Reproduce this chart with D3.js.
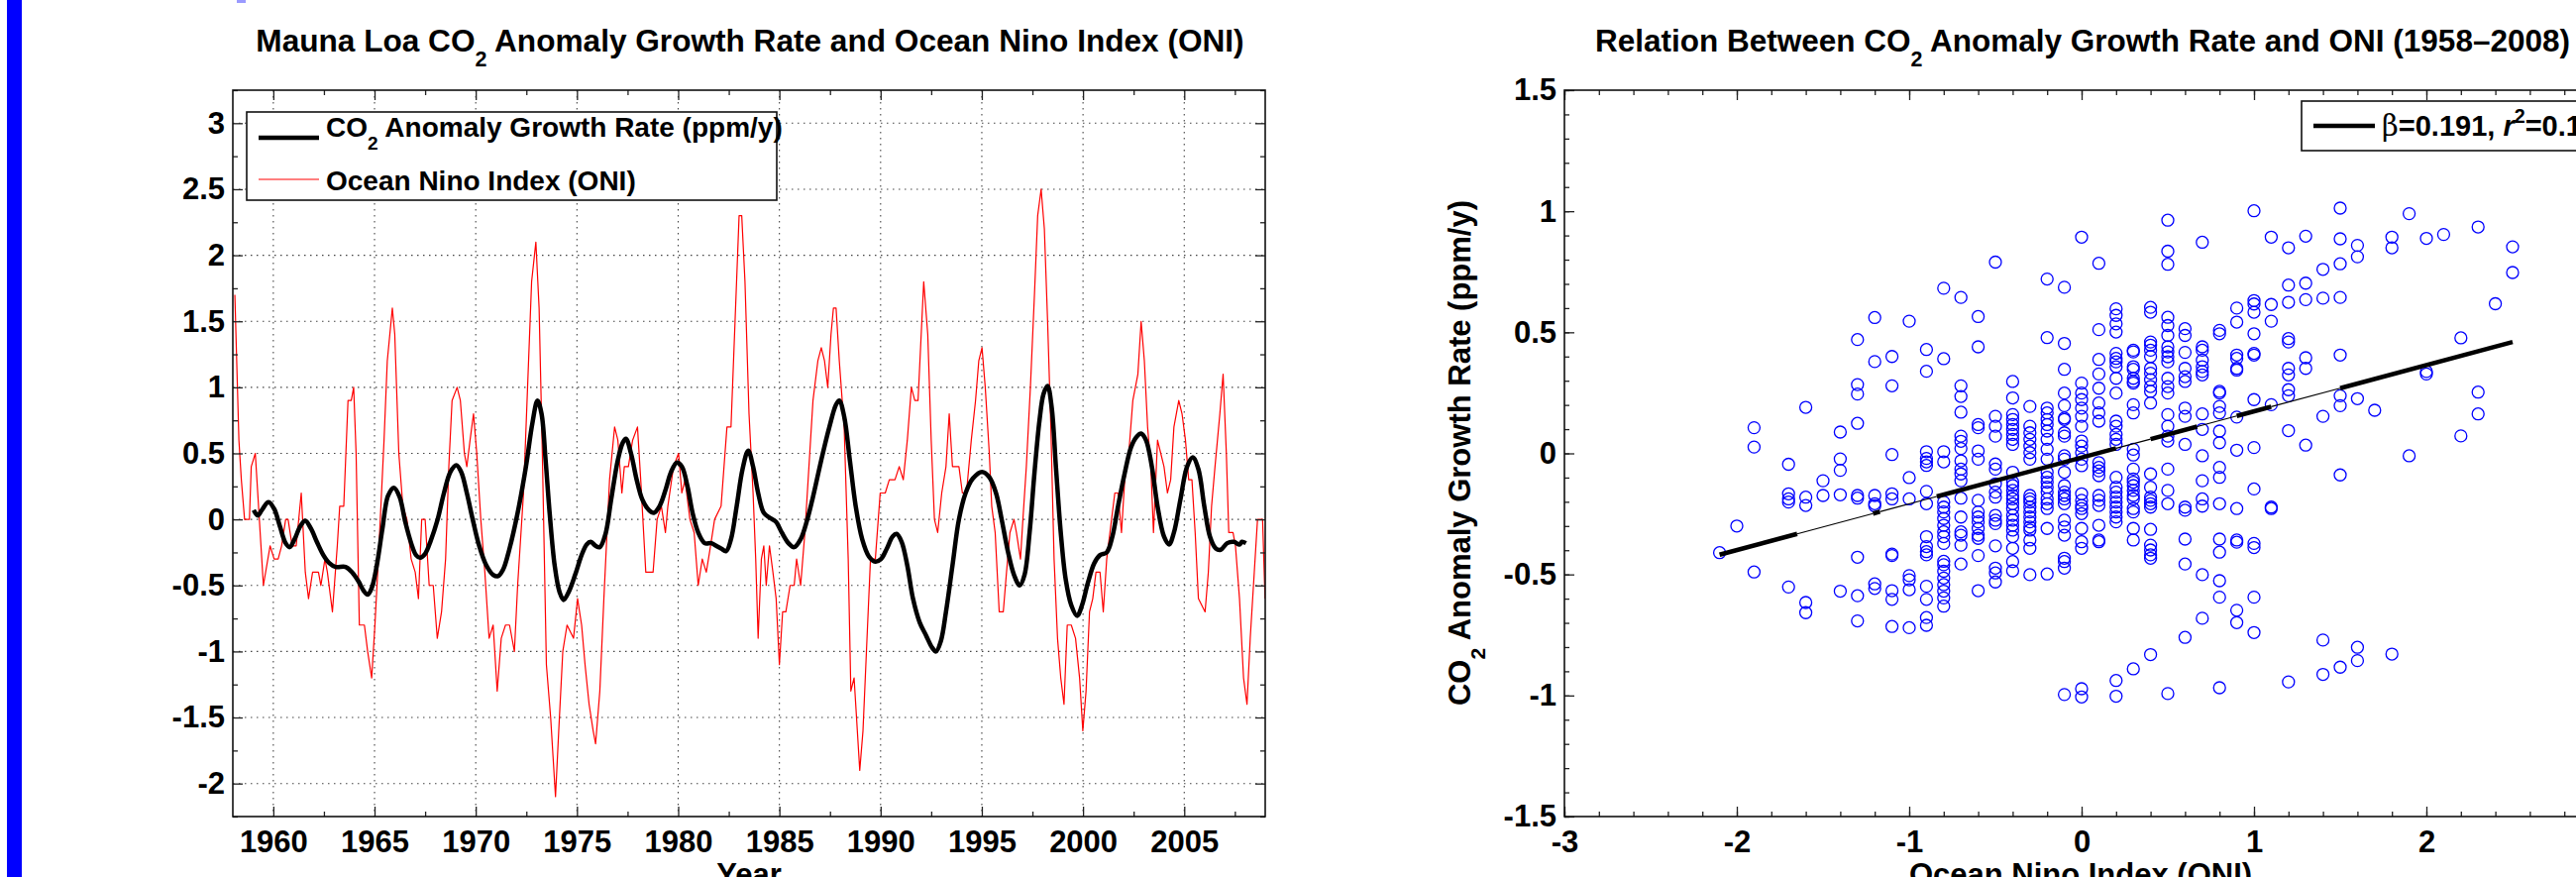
<!DOCTYPE html>
<html>
<head>
<meta charset="utf-8">
<script src="https://cdn.jsdelivr.net/npm/d3@7"></script>
<style>
  body { margin: 0; background: #fff; }
  svg text { font-family: "Liberation Sans", Arial, Helvetica, sans-serif; font-weight: bold; fill: #000; }
</style>
</head>
<body>
<div id="chart"></div>
<script>
// ---- data ----
// Ocean Nino Index, [year, value]
const oniSeries = [
  [1958.10,1.7],[1958.30,0.6],[1958.42,0.3],[1958.58,0.0],[1958.82,0.0],[1958.91,0.4],[1959.11,0.5],[1959.31,0.0],
  [1959.51,-0.5],[1959.84,-0.2],[1960.04,-0.3],[1960.24,-0.3],[1960.41,-0.2],[1960.61,0.0],[1960.73,0.0],[1960.93,-0.2],
  [1961.13,-0.2],[1961.38,0.2],[1961.58,-0.4],[1961.74,-0.6],[1961.94,-0.4],[1962.23,-0.4],[1962.35,-0.5],[1962.55,-0.3],
  [1962.67,-0.4],[1962.92,-0.7],[1963.16,-0.2],[1963.28,0.1],[1963.48,0.1],[1963.69,0.9],[1963.85,0.9],[1963.97,1.0],
  [1964.09,0.5],[1964.25,-0.8],[1964.50,-0.8],[1964.66,-1.0],[1964.86,-1.2],[1965.02,-0.8],[1965.19,-0.3],[1965.47,0.6],
  [1965.63,1.2],[1965.88,1.6],[1966.00,1.4],[1966.20,0.5],[1966.40,0.1],[1966.60,0.0],[1966.81,-0.3],[1967.01,-0.4],
  [1967.17,-0.6],[1967.33,0.0],[1967.50,0.0],[1967.70,-0.5],[1967.90,-0.5],[1968.10,-0.9],[1968.31,-0.7],[1968.51,-0.3],
  [1968.67,0.4],[1968.83,0.9],[1969.08,1.0],[1969.24,0.9],[1969.44,0.5],[1969.56,0.4],[1969.72,0.6],[1969.89,0.8],
  [1970.05,0.5],[1970.25,0.0],[1970.45,-0.4],[1970.66,-0.9],[1970.86,-0.8],[1971.06,-1.3],[1971.26,-0.9],[1971.47,-0.8],
  [1971.67,-0.8],[1971.91,-1.0],[1972.07,-0.5],[1972.36,0.2],[1972.56,1.0],[1972.76,1.8],[1972.97,2.1],[1973.13,1.6],
  [1973.29,0.5],[1973.49,-1.1],[1973.70,-1.5],[1973.94,-2.1],[1974.10,-1.6],[1974.30,-1.0],[1974.51,-0.8],[1974.83,-0.9],
  [1975.03,-0.6],[1975.23,-0.8],[1975.40,-1.1],[1975.60,-1.4],[1975.80,-1.6],[1975.92,-1.7],[1976.13,-1.3],[1976.33,-0.6],
  [1976.61,0.3],[1976.86,0.7],[1977.02,0.6],[1977.22,0.2],[1977.34,0.4],[1977.54,0.4],[1977.75,0.6],[1977.99,0.7],
  [1978.15,0.3],[1978.40,-0.4],[1978.76,-0.4],[1978.96,0.0],[1979.17,0.1],[1979.37,-0.1],[1979.49,0.1],[1979.77,0.4],
  [1980.02,0.5],[1980.18,0.2],[1980.34,0.3],[1980.58,0.0],[1980.79,-0.1],[1980.99,-0.5],[1981.19,-0.3],[1981.39,-0.4],
  [1981.60,-0.2],[1981.80,0.0],[1982.12,0.1],[1982.41,0.7],[1982.61,0.7],[1982.81,1.5],[1983.01,2.3],[1983.14,2.3],
  [1983.30,1.8],[1983.50,0.8],[1983.70,0.2],[1983.83,-0.3],[1983.95,-0.9],[1984.11,-0.3],[1984.23,-0.2],[1984.35,-0.5],
  [1984.51,-0.2],[1984.68,-0.4],[1984.84,-0.6],[1985.00,-1.1],[1985.16,-0.7],[1985.32,-0.7],[1985.53,-0.5],[1985.73,-0.5],
  [1985.85,-0.3],[1986.05,-0.5],[1986.26,-0.1],[1986.50,0.5],[1986.66,0.9],[1986.90,1.2],[1987.07,1.3],[1987.23,1.2],
  [1987.39,1.0],[1987.55,1.4],[1987.67,1.6],[1987.80,1.6],[1987.96,1.2],[1988.20,0.7],[1988.40,-0.3],[1988.53,-1.3],
  [1988.69,-1.2],[1988.81,-1.5],[1988.97,-1.9],[1989.13,-1.6],[1989.30,-1.0],[1989.50,-0.3],[1989.74,-0.3],[1989.98,0.2],
  [1990.23,0.2],[1990.43,0.3],[1990.71,0.3],[1990.92,0.4],[1991.12,0.3],[1991.32,0.6],[1991.52,1.0],[1991.69,0.9],
  [1991.85,0.9],[1992.13,1.8],[1992.33,1.4],[1992.50,0.6],[1992.66,0.0],[1992.82,-0.1],[1993.02,0.2],[1993.23,0.4],
  [1993.39,0.8],[1993.55,0.4],[1993.67,0.4],[1993.87,0.4],[1994.04,0.2],[1994.24,0.2],[1994.48,0.6],[1994.69,0.9],
  [1994.85,1.2],[1995.01,1.3],[1995.17,1.0],[1995.37,0.5],[1995.49,0.1],[1995.66,-0.1],[1995.86,-0.7],[1996.06,-0.7],
  [1996.22,-0.4],[1996.39,-0.1],[1996.59,0.0],[1996.71,-0.1],[1996.91,-0.3],[1997.03,0.0],[1997.20,0.4],[1997.40,1.0],
  [1997.60,1.7],[1997.76,2.3],[1997.93,2.5],[1998.09,2.2],[1998.25,1.5],[1998.41,0.7],[1998.57,-0.3],[1998.74,-0.9],
  [1998.90,-1.2],[1999.06,-1.4],[1999.22,-0.8],[1999.42,-0.8],[1999.63,-0.9],[1999.83,-1.2],[1999.99,-1.6],[2000.15,-1.3],
  [2000.32,-0.7],[2000.48,-0.6],[2000.64,-0.4],[2000.84,-0.4],[2001.00,-0.7],[2001.17,-0.3],[2001.41,0.0],[2001.57,0.2],
  [2001.73,0.2],[2001.90,-0.1],[2002.06,0.3],[2002.26,0.5],[2002.46,0.9],[2002.71,1.1],[2002.87,1.5],[2003.03,1.2],
  [2003.19,0.7],[2003.35,0.4],[2003.48,-0.1],[2003.68,0.6],[2003.84,0.5],[2004.00,0.4],[2004.17,0.2],[2004.33,0.3],
  [2004.49,0.7],[2004.73,0.9],[2004.89,0.8],[2005.06,0.6],[2005.22,0.3],[2005.38,0.3],[2005.54,-0.1],[2005.70,-0.6],
  [2006.03,-0.7],[2006.19,-0.4],[2006.35,0.1],[2006.52,0.4],[2006.76,0.8],[2006.92,1.1],[2007.08,0.5],[2007.20,-0.1],
  [2007.41,-0.1],[2007.53,-0.2],[2007.73,-0.6],[2007.93,-1.2],[2008.10,-1.4],[2008.26,-0.9],[2008.46,-0.4],[2008.62,0.0],
  [2008.87,0.0],[2008.99,-0.6]
];

// CO2 anomaly growth rate (ppm/y), [year, value]
const co2Series = [
  [1959.03,0.07],[1959.23,0.03],[1959.43,0.07],[1959.76,0.13],[1960.04,0.08],[1960.32,-0.05],[1960.61,-0.18],[1960.81,-0.21],
  [1961.05,-0.15],[1961.34,-0.05],[1961.58,-0.01],[1961.86,-0.07],[1962.15,-0.17],[1962.47,-0.27],[1962.76,-0.33],[1963.08,-0.36],
  [1963.57,-0.36],[1963.89,-0.40],[1964.21,-0.47],[1964.46,-0.54],[1964.66,-0.57],[1964.86,-0.52],[1965.11,-0.35],[1965.39,-0.07],
  [1965.67,0.18],[1965.96,0.24],[1966.24,0.17],[1966.52,-0.02],[1966.81,-0.18],[1967.05,-0.27],[1967.25,-0.29],[1967.50,-0.26],
  [1967.78,-0.16],[1968.10,-0.01],[1968.43,0.20],[1968.75,0.36],[1969.04,0.41],[1969.28,0.36],[1969.56,0.20],[1969.85,0.00],
  [1970.17,-0.20],[1970.53,-0.35],[1970.86,-0.42],[1971.10,-0.43],[1971.35,-0.38],[1971.67,-0.22],[1972.07,0.05],[1972.48,0.40],
  [1972.80,0.73],[1973.05,0.90],[1973.25,0.80],[1973.45,0.45],[1973.65,0.05],[1973.90,-0.35],[1974.14,-0.55],[1974.34,-0.61],
  [1974.59,-0.55],[1974.91,-0.42],[1975.23,-0.27],[1975.48,-0.19],[1975.68,-0.17],[1975.92,-0.20],[1976.13,-0.21],[1976.41,-0.11],
  [1976.69,0.15],[1977.02,0.45],[1977.26,0.58],[1977.42,0.61],[1977.67,0.50],[1977.95,0.30],[1978.23,0.15],[1978.56,0.07],
  [1978.80,0.05],[1979.08,0.10],[1979.37,0.22],[1979.65,0.36],[1979.94,0.43],[1980.18,0.40],[1980.46,0.25],[1980.71,0.05],
  [1980.99,-0.10],[1981.31,-0.18],[1981.64,-0.18],[1981.88,-0.20],[1982.12,-0.22],[1982.37,-0.24],[1982.61,-0.15],[1982.89,0.10],
  [1983.18,0.38],[1983.46,0.52],[1983.70,0.40],[1983.95,0.20],[1984.23,0.05],[1984.55,0.01],[1984.84,-0.02],[1985.12,-0.10],
  [1985.45,-0.18],[1985.73,-0.21],[1986.05,-0.15],[1986.38,0.00],[1986.66,0.17],[1987.07,0.45],[1987.47,0.70],[1987.80,0.87],
  [1987.96,0.90],[1988.20,0.78],[1988.48,0.45],[1988.77,0.10],[1989.09,-0.15],[1989.42,-0.28],[1989.74,-0.32],[1990.02,-0.30],
  [1990.31,-0.22],[1990.59,-0.13],[1990.79,-0.11],[1991.04,-0.17],[1991.32,-0.35],[1991.60,-0.60],[1991.93,-0.78],[1992.25,-0.88],
  [1992.54,-0.97],[1992.74,-1.00],[1992.98,-0.92],[1993.23,-0.70],[1993.55,-0.35],[1993.87,0.00],[1994.20,0.20],[1994.56,0.31],
  [1995.01,0.36],[1995.37,0.32],[1995.70,0.20],[1995.98,0.00],[1996.30,-0.25],[1996.59,-0.42],[1996.87,-0.50],[1997.11,-0.42],
  [1997.36,-0.10],[1997.60,0.35],[1997.85,0.75],[1998.05,0.95],[1998.25,1.01],[1998.45,0.85],[1998.66,0.40],[1998.90,-0.10],
  [1999.14,-0.45],[1999.42,-0.65],[1999.71,-0.73],[1999.95,-0.65],[2000.24,-0.48],[2000.56,-0.33],[2000.84,-0.27],[2001.17,-0.25],
  [2001.45,-0.13],[2001.73,0.10],[2002.06,0.35],[2002.38,0.55],[2002.67,0.63],[2002.87,0.65],[2003.11,0.60],[2003.40,0.40],
  [2003.68,0.10],[2004.00,-0.13],[2004.25,-0.19],[2004.49,-0.10],[2004.81,0.15],[2005.14,0.40],[2005.42,0.47],[2005.70,0.38],
  [2005.99,0.10],[2006.27,-0.13],[2006.56,-0.22],[2006.80,-0.23],[2007.12,-0.18],[2007.45,-0.17],[2007.73,-0.19],[2007.85,-0.17],
  [2008.05,-0.18]
];

// scatter: [ONI, list of CO2 growth-rate values seen in that column]
const scatterByONI = [
  [-2.1, [-0.41]],
  [-2.0, [-0.30]],
  [-1.9, [0.106, 0.026, -0.49]],
  [-1.7, [-0.045, -0.167, -0.188, -0.201, -0.552]],
  [-1.6, [0.19, -0.181, -0.215, -0.616, -0.658]],
  [-1.5, [-0.113, -0.174]],
  [-1.4, [0.088, -0.023, -0.07, -0.171, -0.569]],
  [-1.3, [0.47, 0.284, 0.245, 0.124, -0.174, -0.185, -0.429, -0.588, -0.692]],
  [-1.2, [0.561, 0.379, -0.174, -0.208, -0.217, -0.539, -0.558]],
  [-1.1, [0.40, 0.279, -0.005, -0.167, -0.188, -0.416, -0.422, -0.567, -0.603, -0.715]],
  [-1.0, [0.546, -0.10, -0.188, -0.505, -0.522, -0.563, -0.72]],
  [-0.9, [0.429, 0.339, 0.007, -0.021, -0.035, -0.05, -0.157, -0.208, -0.344, -0.385, -0.406, -0.419, -0.549, -0.603, -0.678, -0.71]],
  [-0.8, [0.682, 0.391, 0.007, -0.035, -0.201, -0.222, -0.242, -0.269, -0.297, -0.324, -0.344, -0.372, -0.446, -0.46, -0.487, -0.515, -0.542, -0.569, -0.597, -0.631]],
  [-0.7, [0.644, 0.279, 0.235, 0.17, 0.071, 0.05, 0.02, -0.031, -0.065, -0.085, -0.113, -0.185, -0.263, -0.324, -0.338, -0.379, -0.457]],
  [-0.6, [0.565, 0.44, 0.119, 0.106, 0.01, -0.024, -0.194, -0.242, -0.263, -0.283, -0.31, -0.338, -0.351, -0.422, -0.567]],
  [-0.5, [0.79, 0.153, 0.112, 0.071, -0.044, -0.065, -0.126, -0.16, -0.181, -0.256, -0.276, -0.29, -0.382, -0.474, -0.494, -0.531]],
  [-0.4, [0.297, 0.229, 0.16, 0.14, 0.119, 0.099, 0.078, 0.058, 0.037, -0.078, -0.119, -0.133, -0.153, -0.174, -0.188, -0.208, -0.228, -0.256, -0.276, -0.297, -0.317, -0.344, -0.392, -0.447, -0.485]],
  [-0.3, [0.194, 0.112, 0.085, 0.058, 0.03, 0.003, -0.024, -0.174, -0.188, -0.201, -0.222, -0.242, -0.263, -0.283, -0.304, -0.317, -0.358, -0.392, -0.501]],
  [-0.2, [0.72, 0.478, 0.187, 0.167, 0.14, 0.119, 0.092, 0.058, 0.017, -0.024, -0.078, -0.099, -0.119, -0.14, -0.16, -0.188, -0.208, -0.228, -0.31, -0.498]],
  [-0.1, [0.686, 0.454, 0.347, 0.249, 0.197, 0.146, 0.14, 0.085, 0.071, -0.01, -0.024, -0.078, -0.133, -0.16, -0.174, -0.188, -0.208, -0.276, -0.304, -0.338, -0.433, -0.447, -0.474, -0.996]],
  [0.0, [0.893, 0.29, 0.249, 0.222, 0.187, 0.153, 0.112, 0.051, 0.03, 0.003, -0.024, -0.051, -0.167, -0.194, -0.215, -0.228, -0.249, -0.31, -0.365, -0.392, -0.972, -1.006]],
  [0.1, [0.785, 0.511, 0.388, 0.328, 0.269, 0.208, 0.167, 0.133, -0.038, -0.058, -0.072, -0.092, -0.174, -0.194, -0.215, -0.297, -0.358, -0.365]],
  [0.2, [0.597, 0.57, 0.535, 0.501, 0.413, 0.392, 0.378, 0.358, 0.31, 0.249, 0.133, 0.112, 0.078, 0.058, 0.037, -0.099, -0.14, -0.16, -0.181, -0.201, -0.222, -0.242, -0.263, -0.283, -0.938, -1.003]],
  [0.3, [0.426, 0.419, 0.358, 0.347, 0.31, 0.297, 0.29, 0.201, 0.167, 0.017, -0.007, -0.065, -0.106, -0.119, -0.133, -0.153, -0.174, -0.188, -0.228, -0.242, -0.31, -0.358, -0.89]],
  [0.4, [0.603, 0.583, 0.46, 0.447, 0.426, 0.40, 0.351, 0.331, 0.304, 0.276, 0.256, 0.208, -0.085, -0.14, -0.181, -0.194, -0.208, -0.222, -0.314, -0.379, -0.399, -0.419, -0.433, -0.831]],
  [0.5, [0.963, 0.835, 0.781, 0.562, 0.528, 0.487, 0.44, 0.419, 0.399, 0.378, 0.31, 0.276, 0.249, 0.16, 0.112, 0.071, 0.051, -0.065, -0.153, -0.208, -0.992]],
  [0.6, [0.515, 0.487, 0.417, 0.351, 0.317, 0.297, 0.187, 0.153, 0.037, -0.222, -0.235, -0.354, -0.457, -0.76]],
  [0.7, [0.872, 0.44, 0.426, 0.385, 0.358, 0.338, 0.324, 0.163, 0.099, -0.01, -0.113, -0.188, -0.218, -0.501, -0.681]],
  [0.8, [0.508, 0.494, 0.256, 0.249, 0.194, 0.167, 0.092, 0.044, -0.058, -0.099, -0.208, -0.354, -0.408, -0.526, -0.594, -0.968]],
  [0.9, [0.60, 0.542, 0.406, 0.392, 0.351, 0.344, 0.15, 0.013, -0.228, -0.358, -0.367, -0.648, -0.699]],
  [1.0, [1.002, 0.631, 0.617, 0.583, 0.494, 0.413, 0.406, 0.222, 0.024, -0.147, -0.372, -0.389, -0.594, -0.74]],
  [1.1, [0.893, 0.615, 0.546, 0.201, -0.222, -0.228]],
  [1.2, [0.849, 0.695, 0.624, 0.474, 0.46, 0.351, 0.324, 0.263, 0.238, 0.094, -0.944]],
  [1.3, [0.897, 0.703, 0.635, 0.395, 0.351, 0.034]],
  [1.4, [0.76, 0.641, 0.153, -0.771, -0.913]],
  [1.5, [1.013, 0.886, 0.783, 0.644, 0.406, 0.238, 0.197, -0.089, -0.883]],
  [1.6, [0.859, 0.812, 0.226, -0.801, -0.856]],
  [1.7, [0.178]],
  [1.8, [0.893, 0.849, -0.829]],
  [1.9, [0.99, -0.01]],
  [2.0, [0.888, 0.338, 0.328]],
  [2.1, [0.904]],
  [2.2, [0.477, 0.072]],
  [2.3, [0.935, 0.253, 0.163]],
  [2.4, [0.618]],
  [2.5, [0.853, 0.747]]
];

// least-squares fit shown in the legend
const fitSlope = 0.191;
const fitIntercept = -0.0175;
const fitRange = [-2.1, 2.5];
const fitThinRanges = [[-1.65, -1.21], [-1.17, -0.84], [0.2, 0.4], [0.67, 0.9], [1.1, 1.5]];
const fitLabel = { beta: "0.191", r2: "0.16" };

// tick labels
const yearTicks = [1960, 1965, 1970, 1975, 1980, 1985, 1990, 1995, 2000, 2005];
const leftYTicks = [-2, -1.5, -1, -0.5, 0, 0.5, 1, 1.5, 2, 2.5, 3];
const oniTicks = [-3, -2, -1, 0, 1, 2, 3];
const rightYTicks = [-1.5, -1, -0.5, 0, 0.5, 1, 1.5];

// ---- drawing ----
const W = 2600, H = 885;
const svg = d3.select("#chart").append("svg")
    .attr("width", W).attr("height", H)
    .style("display", "block");

// side marks of the screenshot
svg.append("rect").attr("x", 7).attr("y", 0).attr("width", 15).attr("height", H).attr("fill", "#0000ff");
svg.append("rect").attr("x", 239).attr("y", 0).attr("width", 9).attr("height", 3).attr("fill", "#9a9aff");

const plotTop = 91, plotBottom = 824;
const xL = d3.scaleLinear().domain([1958, 2009]).range([235, 1277]);
const yL = d3.scaleLinear().domain([-2.25, 3.25]).range([plotBottom, plotTop]);
const xR = d3.scaleLinear().domain([-3, 3]).range([1579, 2623]);
const yR = d3.scaleLinear().domain([-1.5, 1.5]).range([plotBottom, plotTop]);

const fmt = d => String(d);

function drawTicks(g, x, y, xMajor, xMinor, yMajor, yMinor) {
    let [x0, x1] = x.range();
    let [y1, y0] = y.range();
    let parts = [
        [d3.axisBottom(x).tickValues(xMinor), `translate(0,${y1})`, -5, false],
        [d3.axisTop(x).tickValues(xMinor), `translate(0,${y0})`, -5, false],
        [d3.axisLeft(y).tickValues(yMinor), `translate(${x0},0)`, -5, false],
        [d3.axisRight(y).tickValues(yMinor), `translate(${x1},0)`, -5, false],
        [d3.axisBottom(x).tickValues(xMajor).tickPadding(14), `translate(0,${y1})`, -10, true],
        [d3.axisTop(x).tickValues(xMajor), `translate(0,${y0})`, -10, false],
        [d3.axisLeft(y).tickValues(yMajor).tickPadding(8), `translate(${x0},0)`, -10, true],
        [d3.axisRight(y).tickValues(yMajor), `translate(${x1},0)`, -10, false],
    ];
    parts.forEach(([ax, tr, size, labels]) => {
        let a = g.append("g")
            .attr("transform", tr)
            .call(ax.tickSizeInner(size).tickSizeOuter(0).tickFormat(labels ? fmt : ""));
        a.attr("font-family", null).attr("font-size", 31);
        a.select(".domain").remove();
        a.selectAll(".tick line").attr("stroke", "#222").attr("stroke-width", 1.3);
    });
    g.append("rect")
        .attr("x", x0).attr("y", y0)
        .attr("width", x1 - x0).attr("height", y1 - y0)
        .attr("fill", "none").attr("stroke", "#111").attr("stroke-width", 1.6);
}

function subText(g, x, y, size, parts, anchor) {
    // parts: [text, "sub"|"sup"|null, style]
    let t = g.append("text").attr("x", x).attr("y", y)
        .attr("font-size", size).attr("text-anchor", anchor || "start");
    let shift = 0;
    parts.forEach(([s, kind, style]) => {
        let dy = 0, fs = size;
        if (kind === "sub") { dy = 0.47 * size - shift; shift = 0.47 * size; fs = size * 0.68; }
        else if (kind === "sup") { dy = -0.45 * size - shift; shift = -0.45 * size; fs = size * 0.68; }
        else { dy = -shift; shift = 0; }
        let ts = t.append("tspan").attr("dy", dy).attr("font-size", fs).text(s);
        if (style === "italic") ts.attr("font-style", "italic");
        if (style === "symbol") ts.attr("font-weight", "normal").attr("font-family", "'DejaVu Serif', serif");
    });
    return t;
}

// ===== left panel =====
const gL = svg.append("g");
gL.append("clipPath").attr("id", "clipL").append("rect")
    .attr("x", 235).attr("y", plotTop).attr("width", 1042).attr("height", plotBottom - plotTop);

let grid = gL.append("g")
    .attr("stroke", "#444").attr("stroke-width", 1.1).attr("stroke-dasharray", "1.5,4.5");
grid.selectAll("line.v").data(yearTicks).enter().append("line")
    .attr("x1", d => xL(d)).attr("x2", d => xL(d)).attr("y1", plotTop).attr("y2", plotBottom);
grid.selectAll("line.h").data(leftYTicks).enter().append("line")
    .attr("x1", 235).attr("x2", 1277).attr("y1", d => yL(d)).attr("y2", d => yL(d));

let lineL = d3.line().x(d => xL(d[0])).y(d => yL(d[1]));
gL.append("path").datum(oniSeries)
    .attr("clip-path", "url(#clipL)")
    .attr("fill", "none").attr("stroke", "#ff0000").attr("stroke-width", 1.2)
    .attr("stroke-linejoin", "round")
    .attr("d", lineL);
gL.append("path").datum(co2Series)
    .attr("clip-path", "url(#clipL)")
    .attr("fill", "none").attr("stroke", "#000").attr("stroke-width", 4.5)
    .attr("stroke-linejoin", "round")
    .attr("d", lineL.curve(d3.curveCatmullRom.alpha(0.5)));

drawTicks(gL, xL, yL, yearTicks, d3.range(1962.5, 2009, 5), leftYTicks, d3.range(-2.25, 3.26, 0.5));

// legend
let legL = gL.append("g");
legL.append("rect").attr("x", 249).attr("y", 113).attr("width", 535).attr("height", 89)
    .attr("fill", "#fff").attr("stroke", "#111").attr("stroke-width", 1.6);
legL.append("line").attr("x1", 261).attr("x2", 322).attr("y1", 139).attr("y2", 139)
    .attr("stroke", "#000").attr("stroke-width", 4.5);
subText(legL, 329, 138, 28, [["CO"], ["2", "sub"], [" Anomaly Growth Rate (ppm/y)"]]);
legL.append("line").attr("x1", 261).attr("x2", 322).attr("y1", 181).attr("y2", 181)
    .attr("stroke", "#ff0000").attr("stroke-width", 1.2);
legL.append("text").attr("x", 329).attr("y", 192).attr("font-size", 28).text("Ocean Nino Index (ONI)");

subText(gL, 757, 52, 31.6, [["Mauna Loa CO"], ["2", "sub"], [" Anomaly Growth Rate and Ocean Nino Index (ONI)"]], "middle");
gL.append("text").attr("x", 756).attr("y", 893).attr("font-size", 31).attr("text-anchor", "middle").text("Year");

// ===== right panel =====
const gR = svg.append("g");
let pts = scatterByONI.flatMap(([o, vals]) => vals.map(v => [o, v]));
gR.append("g").selectAll("circle").data(pts).enter().append("circle")
    .attr("cx", d => xR(d[0])).attr("cy", d => yR(d[1])).attr("r", 6)
    .attr("fill", "none").attr("stroke", "#0000ff").attr("stroke-width", 1.3);

// fitted line, thick where drawn over many times, thin elsewhere
let fitSegs = [];
let segStart = fitRange[0];
fitThinRanges.forEach(([a, b]) => {
    fitSegs.push([segStart, a, 4.5]);
    fitSegs.push([a, b, 1.2]);
    segStart = b;
});
fitSegs.push([segStart, fitRange[1], 4.5]);
let fitLine = d3.line().x(d => xR(d)).y(d => yR(fitIntercept + fitSlope * d));
gR.append("g").selectAll("path").data(fitSegs).enter().append("path")
    .attr("fill", "none").attr("stroke", "#000")
    .attr("stroke-width", d => d[2])
    .attr("d", d => fitLine([d[0], d[1]]));

drawTicks(gR, xR, yR, oniTicks, d3.range(-3, 3.01, 0.2), rightYTicks, d3.range(-1.5, 1.51, 0.1));

// legend
let legR = gR.append("g");
legR.append("rect").attr("x", 2323).attr("y", 102).attr("width", 290).attr("height", 50)
    .attr("fill", "#fff").attr("stroke", "#111").attr("stroke-width", 1.6);
legR.append("line").attr("x1", 2335).attr("x2", 2397).attr("y1", 127).attr("y2", 127)
    .attr("stroke", "#000").attr("stroke-width", 4.5);
subText(legR, 2404, 137, 29, [["β", null, "symbol"], ["=" + fitLabel.beta + ", "], ["r", null, "italic"], ["2", "sup"], ["=" + fitLabel.r2]]);

subText(gR, 2102, 52, 31.5, [["Relation Between CO"], ["2", "sub"], [" Anomaly Growth Rate and ONI (1958\u20132008)"]], "middle");
gR.append("text").attr("x", 2100).attr("y", 893).attr("font-size", 31).attr("text-anchor", "middle").text("Ocean Nino Index (ONI)");
subText(gR.append("g").attr("transform", "translate(1484,457) rotate(-90)"), 0, 0, 31,
    [["CO"], ["2", "sub"], [" Anomaly Growth Rate (ppm/y)"]], "middle");
</script>
</body>
</html>
